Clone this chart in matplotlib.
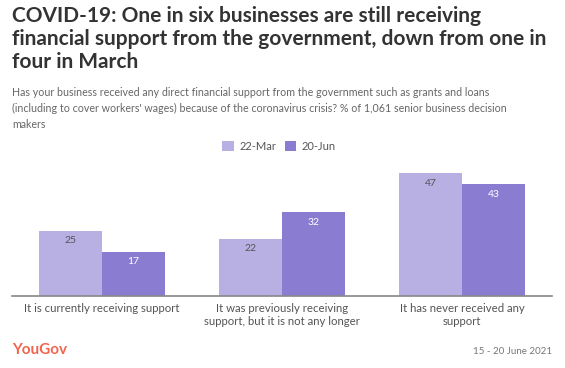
import matplotlib
matplotlib.use("Agg")
import matplotlib.pyplot as plt
import numpy as np

categories = ["It is currently receiving support",
              "It was previously receiving\nsupport, but it is not any longer",
              "It has never received any\nsupport"]
series_names = ["22-Mar", "20-Jun"]
mar_values = [25, 22, 47]
jun_values = [17, 32, 43]

colors = ["#b8b0e3", "#8a7cd1"]
label_colors = ["#555555", "#ffffff"]

plt.rcParams['font.family'] = ['Lato', 'DejaVu Sans']

W, H = 565, 368
fig = plt.figure(figsize=(W/100, H/100), dpi=100)

def fx(px): return px / W
def fy(py): return 1 - py / H

ax = fig.add_axes([fx(12), fy(296), fx(552) - fx(12), (296 - 165.5) / H])
x = np.arange(len(categories))
bw = 0.35
for i, (vals, c, lc) in enumerate(zip([mar_values, jun_values], colors, label_colors)):
    pos = x + (i - 0.5) * bw
    ax.bar(pos, vals, width=bw, color=c, label=series_names[i], zorder=2)
    for p, v in zip(pos, vals):
        ax.text(p, v - 2.2, str(v), ha='center', va='top', fontsize=7.5, color=lc)

ax.set_xlim(-0.5, len(categories) - 0.5)
ax.set_ylim(0, 50)
for s in ['top', 'right', 'left']:
    ax.spines[s].set_visible(False)
ax.spines['bottom'].set_color('#888888')
ax.spines['bottom'].set_linewidth(1.2)
ax.set_yticks([])
ax.set_xticks(x)
ax.set_xticklabels(categories, fontsize=8.2, color='#555555', linespacing=1.25)
ax.tick_params(axis='x', length=0, pad=5)

leg = ax.legend(loc='center', bbox_to_anchor=(fx(279), fy(146)), bbox_transform=fig.transFigure,
                ncol=2, frameon=False, fontsize=8, handlelength=1.0, handleheight=1.0,
                handletextpad=0.5, columnspacing=0.8)
for t in leg.get_texts():
    t.set_color('#555555')

title = "COVID-19: One in six businesses are still receiving\nfinancial support from the government, down from one in\nfour in March"
fig.text(fx(12), fy(6), title, ha='left', va='top', fontsize=15, fontweight='bold',
         color='#333333', linespacing=1.2)

subtitle = ("Has your business received any direct financial support from the government such as grants and loans\n"
            "(including to cover workers' wages) because of the coronavirus crisis? % of 1,061 senior business decision\n"
            "makers")
fig.text(fx(12), fy(87), subtitle, ha='left', va='top', fontsize=7.7, color='#666666', linespacing=1.55)

fig.text(fx(12), fy(350), "YouGov", ha='left', va='center', fontsize=11, fontweight='bold', color='#f2644e')
fig.text(fx(552), fy(351), "15 - 20 June 2021", ha='right', va='center', fontsize=7, color='#777777')

fig.savefig("out.png", dpi=100)
